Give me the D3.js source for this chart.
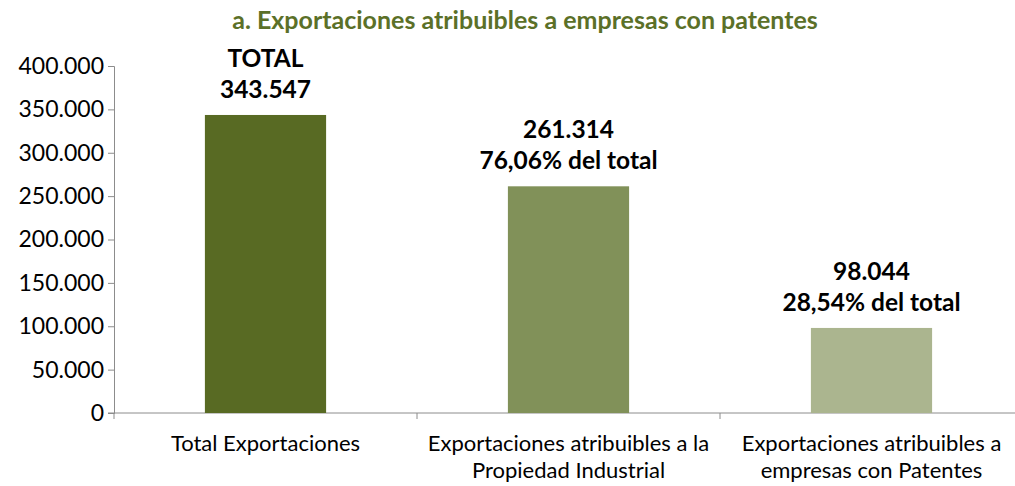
<!DOCTYPE html>
<html>
<head>
<meta charset="utf-8">
<script src="https://cdn.jsdelivr.net/npm/d3@7.9.0/dist/d3.min.js"></script>
<style>
  body { margin: 0; background: #fff; }
  text { font-family: Lato, "Open Sans", sans-serif; }
</style>
</head>
<body>
<div id="vis"></div>
<script>
const width = 1015, height = 486;

const categories = [
  ["Total Exportaciones"],
  ["Exportaciones atribuibles a la", "Propiedad Industrial"],
  ["Exportaciones atribuibles a", "empresas con Patentes"]
];
const values = [343547, 261314, 98044];
const labelLines = [
  ["TOTAL", "343.547"],
  ["261.314", "76,06% del total"],
  ["98.044", "28,54% del total"]
];
const barColors = ["#586a23", "#819159", "#abb58f"];
const yTicks = [0, 50000, 100000, 150000, 200000, 250000, 300000, 350000, 400000];

const margin = { top: 66, left: 114, bottom: 73 };

const svg = d3.select("#vis").append("svg")
    .attr("width", width)
    .attr("height", height);

const x = d3.scaleBand()
    .domain(d3.range(categories.length))
    .range([margin.left, 1023])
    .paddingInner(0.6)
    .paddingOuter(0.3);

const y = d3.scaleLinear()
    .domain([0, 400000])
    .range([height - margin.bottom, margin.top]);

const fmt = v => d3.format(",")(v).replace(/,/g, ".");

// title
svg.append("text")
    .attr("x", 525)
    .attr("y", 29)
    .attr("text-anchor", "middle")
    .attr("font-size", 25)
    .attr("font-weight", "bold")
    .attr("fill", "#5b7028")
    .text("a. Exportaciones atribuibles a empresas con patentes");

// y axis
const yAxis = svg.append("g")
    .attr("transform", `translate(${margin.left},0)`)
    .call(d3.axisLeft(y).tickValues(yTicks).tickFormat(fmt).tickSize(6).tickPadding(4));
yAxis.select(".domain").attr("stroke", "#8c8c8c");
yAxis.selectAll(".tick line").attr("stroke", "#8c8c8c");
yAxis.selectAll(".tick text")
    .attr("font-size", 23)
    .attr("fill", "#000")
    .attr("font-family", "Lato, sans-serif");

// x axis line with ticks at category borders
const base = y(0);
svg.append("line")
    .attr("x1", margin.left - 6).attr("x2", width)
    .attr("y1", base).attr("y2", base)
    .attr("stroke", "#8c8c8c");
const step = x.step();
const borders = d3.range(categories.length + 1).map(i => x(0) - x.paddingOuter() * step + i * step);
svg.selectAll(".xtick")
    .data(borders)
    .enter().append("line")
    .attr("x1", d => d).attr("x2", d => d)
    .attr("y1", base).attr("y2", base + 6)
    .attr("stroke", "#8c8c8c");

// bars
svg.selectAll(".bar")
    .data(values)
    .enter().append("rect")
    .attr("x", (d, i) => x(i))
    .attr("y", d => y(d))
    .attr("width", x.bandwidth())
    .attr("height", d => base - y(d))
    .attr("fill", (d, i) => barColors[i]);

// value labels
values.forEach((v, i) => {
  const cx = x(i) + x.bandwidth() / 2;
  labelLines[i].forEach((t, j) => {
    svg.append("text")
        .attr("x", cx)
        .attr("y", y(v) - 17 - (labelLines[i].length - 1 - j) * 31)
        .attr("text-anchor", "middle")
        .attr("font-size", 24.5)
        .attr("font-weight", "bold")
        .attr("fill", "#000")
        .text(t);
  });
});

// category labels
categories.forEach((lines, i) => {
  const cx = x(i) + x.bandwidth() / 2;
  lines.forEach((t, j) => {
    svg.append("text")
        .attr("x", cx)
        .attr("y", 451 + j * 27)
        .attr("text-anchor", "middle")
        .attr("font-size", 22)
        .attr("fill", "#000")
        .text(t);
  });
});
</script>
</body>
</html>
